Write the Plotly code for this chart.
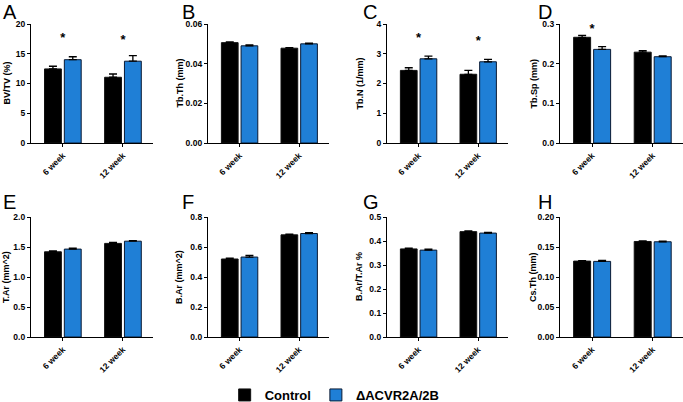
import plotly.graph_objects as go

W, H = 683, 402

categories = ["6 week", "12 week"]
letters = ["A", "B", "C", "D", "E", "F", "G", "H"]
y_titles = ["BV/TV (%)", "Tb.Th (mm)", "Tb.N (1/mm)", "Tb.Sp (mm)",
            "T.Ar (mm^2)", "B.Ar (mm^2)", "B.Ar/T.Ar %", "Cs.Th (mm)"]

control_mean = [[12.45, 11.05], [0.0506, 0.0478], [2.44, 2.31], [0.2665, 0.229],
                [1.42, 1.56], [0.520, 0.681], [0.367, 0.439], [0.1265, 0.1592]]
control_err = [[0.45, 0.55], [0.0004, 0.0003], [0.09, 0.13], [0.005, 0.004],
               [0.015, 0.015], [0.006, 0.005], [0.003, 0.003], [0.0008, 0.0008]]
ko_mean = [[14.0, 13.75], [0.0490, 0.0500], [2.83, 2.73], [0.236, 0.2175],
           [1.465, 1.597], [0.533, 0.690], [0.362, 0.433], [0.1260, 0.1587]]
ko_err = [[0.5, 0.95], [0.0004, 0.0003], [0.09, 0.08], [0.007, 0.002],
          [0.015, 0.01], [0.011, 0.005], [0.004, 0.003], [0.0015, 0.0010]]
# significance markers (category, y) per panel
stars = [[("6 week", 17.6), ("12 week", 17.2)], [], [("6 week", 3.5), ("12 week", 3.42)],
         [("6 week", 0.285)], [], [], [], []]

y_max = [20, 0.06, 4, 0.3, 2.0, 0.8, 0.5, 0.20]
y_dtick = [5, 0.02, 1, 0.1, 0.5, 0.2, 0.1, 0.05]
y_fmt = ["d", ".2f", "d", ".1f", ".1f", ".1f", ".1f", ".2f"]

BLUE = "#1f7fd6"
FONT = "Liberation Sans, Arial, sans-serif"

# pixel layout (x axis start/end, y top/bottom)
x_px = [(31, 153), (208, 329), (387, 508), (560, 683)]
y_px = [(24, 143), (217, 337)]
letter_x = [2, 181, 362, 537]
letter_top = [0, 190]
title_x = [6, 179, 359, 533]

fig = go.Figure()
annotations = []
for i in range(8):
    r, c = divmod(i, 4)
    n = "" if i == 0 else str(i + 1)
    xa, ya = "x" + n, "y" + n
    x0, x1 = x_px[c]
    yt, yb = y_px[r]
    fig.add_trace(go.Bar(
        x=categories, y=control_mean[i], name="Control", xaxis=xa, yaxis=ya,
        marker=dict(color="black", line=dict(color="#111", width=1)),
        error_y=dict(type="data", symmetric=False, array=control_err[i], arrayminus=[0, 0],
                     color="black", thickness=1.3, width=4),
        showlegend=(i == 0), legendgroup="c"))
    fig.add_trace(go.Bar(
        x=categories, y=ko_mean[i], name="ΔACVR2A/2B", xaxis=xa, yaxis=ya,
        marker=dict(color=BLUE, line=dict(color="#0a1a33", width=1)),
        error_y=dict(type="data", symmetric=False, array=ko_err[i], arrayminus=[0, 0],
                     color="black", thickness=1.3, width=4),
        showlegend=(i == 0), legendgroup="k"))
    if stars[i]:
        fig.add_trace(go.Scatter(
            x=[s[0] for s in stars[i]], y=[s[1] for s in stars[i]], xaxis=xa, yaxis=ya,
            mode="text", text=["*"] * len(stars[i]), textposition="middle center",
            textfont=dict(family=FONT, size=13, color="black", weight="bold"),
            offsetgroup="k", showlegend=False, hoverinfo="skip"))
    common = dict(showline=True, linecolor="black", linewidth=1.3, ticks="outside",
                  ticklen=3, tickwidth=1.2, tickcolor="black", showgrid=False, zeroline=False,
                  automargin=False,
                  tickfont=dict(family=FONT, size=8.5, color="black", weight="bold"))
    fig.layout[("xaxis" + n)] = dict(
        domain=[x0 / W, x1 / W], anchor=ya, type="category",
        range=[-0.53, 1.5], tickangle=-45, **common)
    fig.layout[("yaxis" + n)] = dict(
        domain=[1 - yb / H, 1 - yt / H], anchor=xa, range=[0, y_max[i]],
        dtick=y_dtick[i], tick0=0, tickformat=y_fmt[i], **common)
    annotations.append(dict(
        text=letters[i], xref="paper", yref="paper", x=letter_x[c] / W,
        y=1 - letter_top[r] / H, xanchor="left", yanchor="top", showarrow=False,
        borderpad=0, font=dict(family=FONT, size=20, color="black")))
    annotations.append(dict(
        text=y_titles[i], xref="paper", yref="paper", x=title_x[c] / W,
        y=1 - (yt + yb) / 2 / H, xanchor="center", yanchor="middle", textangle=-90,
        showarrow=False, font=dict(family=FONT, size=9, color="black", weight="bold")))

fig.update_layout(
    template="none",
    width=W, height=H, margin=dict(l=0, r=0, t=0, b=0, autoexpand=False),
    paper_bgcolor="white", plot_bgcolor="white",
    barmode="group", bargap=0.34, bargroupgap=0.15,
    annotations=annotations,
    legend=dict(orientation="h", x=0.49, y=1 - 395 / H, xanchor="center", yanchor="middle",
                font=dict(family=FONT, size=13, color="black", weight="bold"),
                itemwidth=30, tracegroupgap=0, bgcolor="rgba(0,0,0,0)"),
)

fig.write_html("out.html", config={"displayModeBar": False},
               post_script="document.body.style.margin='0';")
